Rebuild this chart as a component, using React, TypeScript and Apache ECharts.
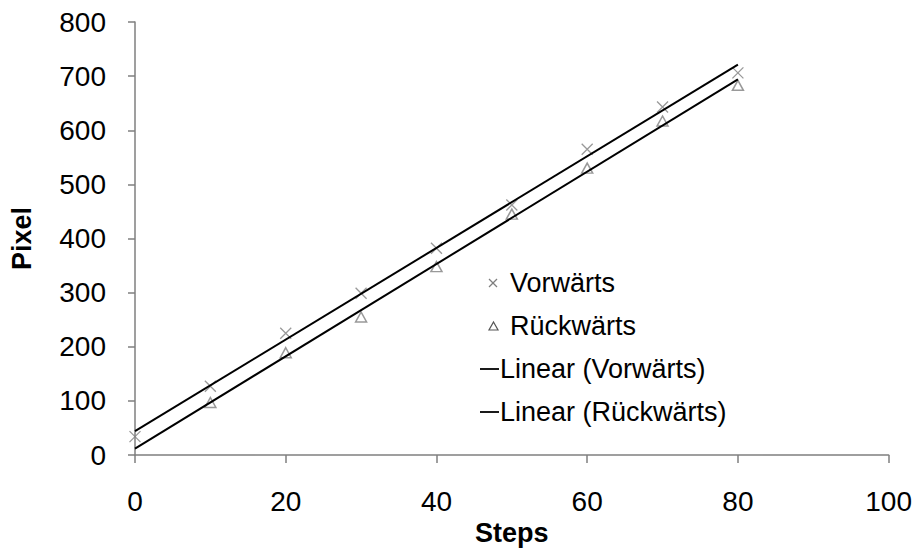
import React, { useEffect, useRef } from "react";
import * as echarts from "echarts";

// Measured step positions
const steps = [0, 10, 20, 30, 40, 50, 60, 70, 80];
const forwardPixels = [34, 127, 225, 299, 382, 462, 565, 643, 706];
const backwardSteps = [10, 20, 30, 40, 50, 60, 70, 80];
const backwardPixels = [97, 189, 255, 348, 445, 530, 617, 683];

const legendLabels = ["Vorwärts", "Rückwärts", "Linear (Vorwärts)", "Linear (Rückwärts)"];

const FONT = "'Liberation Sans', Arial, sans-serif";
const GREY = "#7f7f7f";

// Least-squares fit, drawn over the measured range
function linearFit(xs: number[], ys: number[]) {
  const n = xs.length;
  const mx = xs.reduce((a, b) => a + b, 0) / n;
  const my = ys.reduce((a, b) => a + b, 0) / n;
  let sxy = 0;
  let sxx = 0;
  for (let i = 0; i < n; i++) {
    sxy += (xs[i] - mx) * (ys[i] - my);
    sxx += (xs[i] - mx) * (xs[i] - mx);
  }
  const slope = sxy / sxx;
  const icpt = my - slope * mx;
  return [
    [0, icpt],
    [80, icpt + slope * 80],
  ];
}

const CROSS = "path://M0,0L10,10M10,0L0,10";

export default function App() {
  const ref = useRef<HTMLDivElement>(null);

  useEffect(() => {
    if (!ref.current) return;
    const chart = echarts.init(ref.current, null, { renderer: "svg" });

    const lx = 478;
    const rowY = [283, 326, 369, 412];
    const textX = [510, 510, 500, 500];

    chart.setOption({
      animation: false,
      backgroundColor: "#ffffff",
      grid: { left: 132, right: 26, top: 22, bottom: 97 },
      xAxis: {
        type: "value",
        min: 0,
        max: 100,
        interval: 20,
        name: "Steps",
        nameLocation: "middle",
        nameGap: 62,
        nameTextStyle: { fontFamily: FONT, fontSize: 27, fontWeight: "bold", color: "#000" },
        axisLine: { onZero: false, lineStyle: { color: GREY, width: 1.5 } },
        axisTick: { show: true, length: 8, lineStyle: { color: GREY, width: 1.5 } },
        axisLabel: { fontFamily: FONT, fontSize: 28, color: "#000", margin: 32 },
        splitLine: { show: false },
      },
      yAxis: {
        type: "value",
        min: 0,
        max: 800,
        interval: 100,
        name: "Pixel",
        nameLocation: "middle",
        nameRotate: 90,
        nameGap: 100,
        nameTextStyle: { fontFamily: FONT, fontSize: 27, fontWeight: "bold", color: "#000" },
        axisLine: { show: true, lineStyle: { color: GREY, width: 1.5 } },
        axisTick: { show: true, length: 7, lineStyle: { color: GREY, width: 1.5 } },
        axisLabel: { fontFamily: FONT, fontSize: 28, color: "#000", margin: 29 },
        splitLine: { show: false },
      },
      series: [
        {
          name: legendLabels[0],
          type: "scatter",
          symbol: CROSS,
          symbolSize: 11,
          itemStyle: { color: "none", borderColor: GREY, borderWidth: 1.3 },
          data: steps.map((s, i) => [s, forwardPixels[i]]),
          z: 2,
        },
        {
          name: legendLabels[1],
          type: "scatter",
          symbol: "triangle",
          symbolSize: [11, 10],
          itemStyle: { color: "none", borderColor: GREY, borderWidth: 1.5 },
          data: backwardSteps.map((s, i) => [s, backwardPixels[i]]),
          z: 2,
        },
        {
          name: legendLabels[2],
          type: "line",
          showSymbol: false,
          symbol: "none",
          lineStyle: { color: "#000", width: 2 },
          data: linearFit(steps, forwardPixels),
          z: 3,
        },
        {
          name: legendLabels[3],
          type: "line",
          showSymbol: false,
          symbol: "none",
          lineStyle: { color: "#000", width: 2 },
          data: linearFit(backwardSteps, backwardPixels),
          z: 3,
        },
      ],
      graphic: [
        // legend keys
        {
          type: "group",
          children: [
            {
              type: "line",
              shape: { x1: 489, y1: rowY[0] - 4, x2: 497, y2: rowY[0] + 4 },
              style: { stroke: GREY, lineWidth: 1.2 },
            },
            {
              type: "line",
              shape: { x1: 497, y1: rowY[0] - 4, x2: 489, y2: rowY[0] + 4 },
              style: { stroke: GREY, lineWidth: 1.2 },
            },
            {
              type: "polygon",
              shape: {
                points: [
                  [493.5, rowY[1] - 4],
                  [498, rowY[1] + 4],
                  [489, rowY[1] + 4],
                ],
              },
              style: { fill: "none", stroke: "#555", lineWidth: 1.2 },
            },
            {
              type: "line",
              shape: { x1: lx + 2, y1: rowY[2], x2: 499, y2: rowY[2] },
              style: { stroke: "#000", lineWidth: 1.8 },
            },
            {
              type: "line",
              shape: { x1: lx + 2, y1: rowY[3], x2: 499, y2: rowY[3] },
              style: { stroke: "#000", lineWidth: 1.8 },
            },
            ...legendLabels.map((label, i) => ({
              type: "text",
              x: textX[i],
              y: rowY[i],
              style: {
                text: label,
                fontFamily: FONT,
                fontSize: 27,
                fill: "#000",
                verticalAlign: "middle",
                align: "left",
              },
            })),
          ],
        },
      ],
    });

    return () => chart.dispose();
  }, []);

  return (
    <div
      ref={ref}
      style={{ position: "fixed", left: 0, top: 0, width: 915, height: 552, overflow: "hidden" }}
    />
  );
}
